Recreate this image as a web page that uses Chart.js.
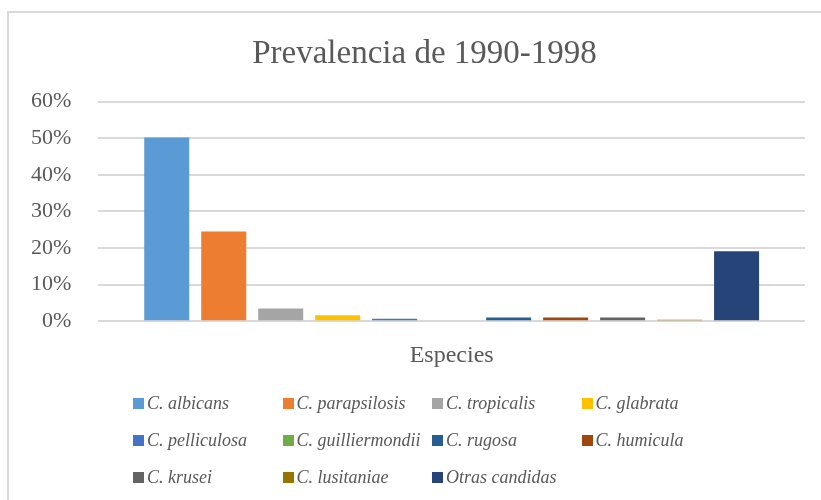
<!DOCTYPE html>
<html>
<head>
<meta charset="utf-8">
<script src="https://cdn.jsdelivr.net/npm/chart.js@4"></script>
<style>
  html, body { margin: 0; padding: 0; background: #fff; overflow: hidden; }
  #wrap { position: relative; width: 821px; height: 500px; overflow: hidden; }
  #frame { position: absolute; left: 7px; top: 11px; width: 900px; height: 600px; border: 2px solid #d9d9d9; box-sizing: border-box; }
  #box { position: absolute; left: 0; top: 0; width: 821px; height: 380px; }
  #legend { position: absolute; left: 0; top: 0; width: 821px; height: 500px; pointer-events: none; }
  .item { position: absolute; height: 20px; display: flex; align-items: center; font: italic 18px "Liberation Serif", "DejaVu Serif", serif; color: #595959; white-space: nowrap; }
  .item span.sw { width: 11px; height: 11px; margin-right: 3px; display: inline-block; }
</style>
</head>
<body>
<div id="wrap">
  <div id="frame"></div>
  <div id="box"><canvas id="myChart" width="821" height="380"></canvas></div>
  <div id="legend"></div>
</div>
<script>
    // datos
    const species = ['C. albicans', 'C. parapsilosis', 'C. tropicalis', 'C. glabrata',
        'C. pelliculosa', 'C. guilliermondii', 'C. rugosa', 'C. humicula',
        'C. krusei', 'C. lusitaniae', 'Otras candidas'];
    const prevalence = [50.2, 24.5, 3.5, 1.6, 0.7, 0, 1.0, 1.0, 1.0, 0.4, 19.1];
    const colors = ['#5B9BD5', '#ED7D31', '#A5A5A5', '#FFC000', '#4472C4', '#70AD47',
        '#255E91', '#9E480E', '#636363', '#997300', '#264478'];
    const yTicks = [0, 10, 20, 30, 40, 50, 60];

    const serif = '"Liberation Serif", "DejaVu Serif", serif';
    const grey = '#595959';

    const datasets = species.map((name, i) => ({
        label: name,
        data: [prevalence[i]],
        backgroundColor: colors[i],
        borderWidth: 0,
        categoryPercentage: 0.887,
        barPercentage: 0.79
    }));

    // el título del original está un poco a la derecha del centro
    const titleShift = {
        id: 'titleShift',
        afterLayout(chart) {
            if (chart.titleBlock) {
                chart.titleBlock.left += 20;
                chart.titleBlock.right += 20;
            }
        }
    };

    const ctx = document.getElementById('myChart').getContext('2d');
    const myChart = new Chart(ctx, {
        type: 'bar',
        data: {
            labels: [''],
            datasets: datasets
        },
        plugins: [titleShift],
        options: {
            responsive: false,
            animation: false,
            layout: {
                padding: { left: 4, right: 16, top: 0, bottom: 10 }
            },
            plugins: {
                legend: { display: false },
                tooltip: { enabled: false },
                title: {
                    display: true,
                    text: 'Prevalencia de 1990-1998',
                    color: grey,
                    font: { family: serif, size: 33, weight: 'normal' },
                    padding: { top: 35, bottom: 27 }
                }
            },
            scales: {
                x: {
                    grid: { display: false, drawTicks: false },
                    border: { display: false },
                    ticks: { display: false },
                    title: {
                        display: true,
                        text: 'Especies',
                        color: grey,
                        font: { family: serif, size: 24 },
                        padding: { top: 20, bottom: 0 }
                    }
                },
                y: {
                    min: 0,
                    max: 60,
                    afterBuildTicks: (axis) => {
                        axis.ticks = yTicks.map(v => ({ value: v }));
                    },
                    grid: { color: '#d9d9d9', lineWidth: 2, drawTicks: false },
                    border: { display: false },
                    ticks: {
                        color: grey,
                        padding: 27,
                        font: { family: serif, size: 22 },
                        callback: (v) => v + '%'
                    }
                }
            }
        }
    });

    // leyenda en 4 columnas como en el original
    const legend = document.getElementById('legend');
    myChart.data.datasets.forEach((ds, i) => {
        const col = i % 4, row = Math.floor(i / 4);
        const el = document.createElement('div');
        el.className = 'item';
        el.style.left = (133 + col * 149.5) + 'px';
        el.style.top = (393 + row * 37) + 'px';
        const sw = document.createElement('span');
        sw.className = 'sw';
        sw.style.background = ds.backgroundColor;
        el.appendChild(sw);
        el.appendChild(document.createTextNode(ds.label));
        legend.appendChild(el);
    });
</script>
</body>
</html>
